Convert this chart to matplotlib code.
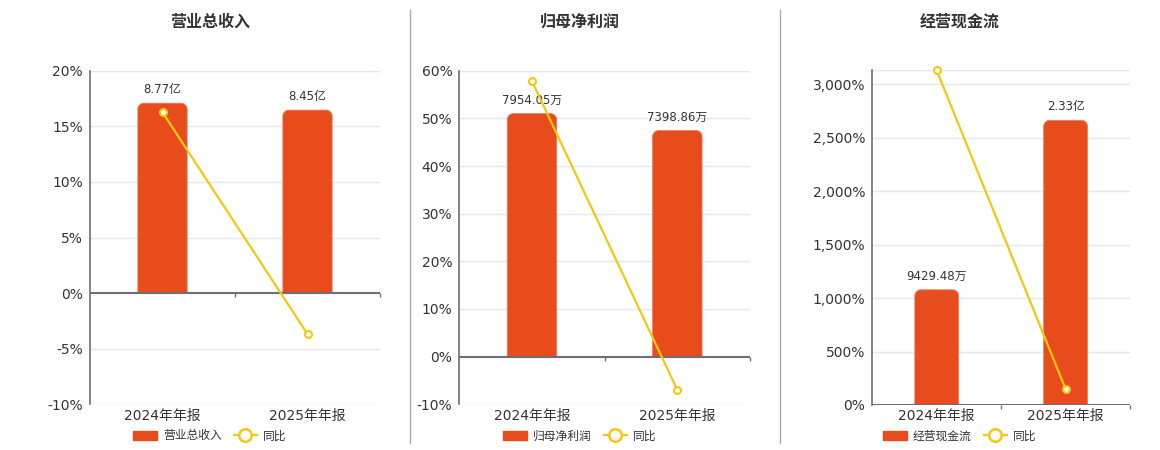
import matplotlib
matplotlib.use("Agg")
import matplotlib.pyplot as plt
from matplotlib.lines import Line2D
from matplotlib.patches import Patch, PathPatch, FancyBboxPatch
from matplotlib.path import Path
from matplotlib.ticker import FuncFormatter

plt.rcParams['font.family'] = ['DejaVu Sans', 'Noto Sans CJK SC']

# ---- data ----
categories = ['2024年年报', '2025年年报']
titles = ['营业总收入', '归母净利润', '经营现金流']
bar_values = [[87700, 84500], [7954.05, 7398.86], [9429.48, 23300]]   # 万
bar_labels = [['8.77亿', '8.45亿'], ['7954.05万', '7398.86万'], ['9429.48万', '2.33亿']]
yoy = [[16.26, -3.68], [57.8, -6.98], [3130, 150]]                    # %
# axis settings
pct_lims = [(-10, 20), (-10, 60), (0, 3134)]
pct_ticks = [list(range(-10, 21, 5)), list(range(-10, 61, 10)), list(range(0, 3001, 500))]
bar_axis_top = [102700, 9358, 27421]   # bar value at top of percent axis

BAR = '#E84C1C'
YEL = '#F2C811'
GRID = '#E3E7F0'
AX = '#6E6E73'
TXT = '#333333'

W, H = 1160, 450
fig = plt.figure(figsize=(W / 100, H / 100), dpi=100)

# axes pixel boxes: (x0, x1, ytop, ybottom)
boxes = [(90, 380, 70.7, 404.3), (459.3, 750, 70.7, 404.3), (872.3, 1130, 70, 405)]
title_x = [210, 580, 960]
RADIUS_PX = 6

def pct_fmt(v, pos):
    return f'{v:,.0f}%'

def rounded_top(x, y0, w, h, rx, ry):
    c = 0.5523
    verts = [(x, y0), (x, y0 + h - ry),
             (x, y0 + h - ry + c * ry), (x + rx - c * rx, y0 + h), (x + rx, y0 + h),
             (x + w - rx, y0 + h),
             (x + w - rx + c * rx, y0 + h), (x + w, y0 + h - ry + c * ry), (x + w, y0 + h - ry),
             (x + w, y0), (x, y0)]
    codes = [Path.MOVETO, Path.LINETO,
             Path.CURVE4, Path.CURVE4, Path.CURVE4,
             Path.LINETO,
             Path.CURVE4, Path.CURVE4, Path.CURVE4,
             Path.LINETO, Path.CLOSEPOLY]
    return Path(verts, codes)

for i in range(3):
    x0, x1, yt, yb = boxes[i]
    rect = [x0 / W, 1 - yb / H, (x1 - x0) / W, (yb - yt) / H]
    ax = fig.add_axes(rect)
    lo, hi = pct_lims[i]
    ax.set_xlim(-0.5, 1.5)
    ax.set_ylim(lo, hi)
    ax.set_yticks(pct_ticks[i])
    ax.yaxis.set_major_formatter(FuncFormatter(pct_fmt))
    ax.grid(axis='y', color=GRID, lw=1)
    ax.axhline(hi, color=GRID, lw=1)
    ax.set_axisbelow(True)
    for s in ['top', 'right', 'bottom']:
        ax.spines[s].set_visible(False)
    ax.spines['left'].set_color(AX)
    ax.spines['left'].set_linewidth(1.2)
    ax.tick_params(axis='y', length=0, labelsize=10, labelcolor=TXT, pad=5)
    ax.set_xticks([0, 1])
    ax.set_xticklabels(categories)
    ax.tick_params(axis='x', length=0, labelsize=10, labelcolor=TXT, pad=3)

    # bars on hidden twin axis
    axb = ax.twinx()
    top_b = bar_axis_top[i]
    k = top_b / hi
    axb.set_ylim(lo * k, hi * k)
    axb.set_axis_off()
    bars = axb.bar(range(len(categories)), bar_values[i], width=0.34, color=BAR, zorder=2)
    rx = RADIUS_PX * 2.0 / (x1 - x0)
    ry = RADIUS_PX * (hi - lo) * k / (yb - yt)
    for b, lab in zip(bars, bar_labels[i]):
        b.set_visible(False)
        p = rounded_top(b.get_x(), b.get_y(), b.get_width(), b.get_height(), rx, ry)
        axb.add_patch(PathPatch(p, facecolor=BAR, edgecolor='#EE7A5C', lw=0.6, zorder=2))
        axb.annotate(lab, (b.get_x() + b.get_width() / 2, b.get_height()),
                     xytext=(0, 5), textcoords='offset points', ha='center', va='bottom',
                     fontsize=8.5, color=TXT)

    # line on another hidden twin axis
    axl = ax.twinx()
    axl.set_ylim(lo, hi)
    axl.set_axis_off()
    axl.axhline(0, color=AX, lw=1.5, zorder=1)
    tick_len = (hi - lo) * 0.013
    axl.vlines([0.5, 1.5], 0 - tick_len, 0, color=AX, lw=1, clip_on=False)
    axl.plot(range(len(categories)), yoy[i], color=YEL, lw=1.6, marker='o', ms=5,
             mfc='white', mec=YEL, mew=1.5, zorder=3, clip_on=False)

    fig.text(title_x[i] / W, 1 - 22 / H, titles[i], ha='center', va='center',
             fontsize=11.5, fontweight='bold', color=TXT,
             family=['Noto Sans CJK SC', 'DejaVu Sans'])

    handles = [Patch(facecolor=BAR, edgecolor=BAR),
               Line2D([0], [0], color=YEL, lw=1.6, marker='o', ms=9, mfc='white', mec=YEL, mew=1.8)]
    leg = fig.legend(handles, [titles[i], '同比'], loc='center',
                     bbox_to_anchor=(title_x[i] / W, 1 - 436 / H), ncol=2, frameon=False,
                     fontsize=8.5, handlelength=2.0, handleheight=0.9, columnspacing=1.0,
                     handletextpad=0.5, borderaxespad=0)
    for t in leg.get_texts():
        t.set_color(TXT)

# separators
for xs in [410, 780]:
    fig.add_artist(Line2D([xs / W, xs / W], [1 - 10 / H, 1 - 443 / H], color='#AAAAAA', lw=1))

fig.savefig('out.png', dpi=100, facecolor='white')
